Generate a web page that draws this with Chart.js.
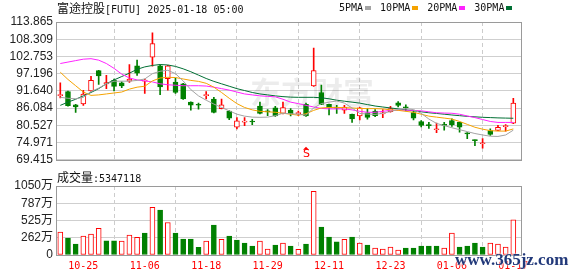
<!DOCTYPE html>
<html><head><meta charset="utf-8">
<script src="https://cdn.jsdelivr.net/npm/chart.js@4/dist/chart.umd.min.js"></script>
<style>
html,body{margin:0;padding:0;background:#fff;width:578px;height:276px;overflow:hidden;position:relative;}
canvas{position:absolute;left:0;}
.t{position:absolute;white-space:nowrap;color:#111;font-family:"DejaVu Sans Mono",monospace;font-size:10px;line-height:13px;}
.cjk{font-family:"Noto Sans CJK SC";font-size:12px;}
.sw{display:inline-block;width:6px;height:4px;margin:0 9px 1px 2px;vertical-align:middle;}
#wm2{position:absolute;left:455px;top:250px;font:bold 17px "Liberation Serif",serif;color:#22397a;white-space:nowrap;text-shadow:0 0 2px #fff,0 0 2px #fff;}
</style></head><body>
<canvas id="pc" width="578" height="170" style="top:0"></canvas>
<canvas id="vc" width="578" height="106" style="top:170px"></canvas>
<div class="t" style="left:57px;top:1px"><span class="cjk">富途控股</span>[FUTU] 2025-01-18 05:00</div>
<div class="t" id="legend" style="left:339px;top:1px"></div>
<div class="t" style="left:57px;top:170px"><span class="cjk">成交量</span>:5347118</div>
<div id="wm2">www.365jz.com</div>
<script>
// ---------- data ----------
const dates = ["10-22","10-23","10-24","10-25","10-28","10-29","10-30","10-31","11-01","11-04","11-05","11-06","11-07","11-08","11-11","11-12","11-13","11-14","11-15","11-18","11-19","11-20","11-21","11-22","11-25","11-26","11-27","11-29","12-02","12-03","12-04","12-05","12-06","12-09","12-10","12-11","12-12","12-13","12-16","12-17","12-18","12-19","12-20","12-23","12-24","12-26","12-27","12-30","12-31","01-02","01-03","01-06","01-07","01-08","01-10","01-13","01-14","01-15","01-16","01-17"];
const openP  = [90.1,91.43,87.17,87.48,91.65,98.2,93.9,95.08,94.24,94.77,99.75,94.8,102.56,99.75,95.58,94.46,93.93,88.0,87.3,90.1,89.04,85.92,85.11,79.91,81.55,81.75,86.76,85.0,86.14,84.37,85.42,84.3,87.29,93.21,91.12,87.29,86.3,85.42,84.05,83.55,84.58,85.11,84.25,84.9,87.79,86.35,84.68,81.78,80.6,79.1,80.6,82.09,81.47,77.9,75.7,74.6,78.88,78.88,80.1,81.25];
const highP  = [94.24,91.6,87.3,91.84,96.33,98.3,96.64,95.49,94.55,100.16,101.62,95.49,110.35,100.0,99.9,95.8,94.1,88.1,87.7,91.43,89.6,89.04,85.3,83.03,83.03,82.5,88.0,85.61,86.67,88.0,85.92,85.11,87.7,105.45,93.52,87.4,87.0,87.0,84.2,86.3,85.92,85.6,85.61,86.67,88.2,87.17,85.2,82.09,81.47,81.25,81.47,82.6,81.6,78.2,75.86,76.27,79.4,80.53,80.75,89.26];
const lowP   = [89.35,86.7,84.68,86.98,91.5,93.7,92.37,91.65,92.68,94.4,96.64,90.81,99.63,90.41,91.84,90.81,88.9,85.42,85.73,89.04,84.5,85.8,82.4,79.38,80.44,80.75,84.2,83.65,83.4,84.2,83.55,83.65,83.4,93.1,87.2,83.87,84.37,84.37,81.47,82.31,82.5,83.3,83.03,84.8,86.45,85.2,82.3,80.0,79.5,78.2,78.97,80.2,78.35,76.27,73.99,73.15,77.3,78.8,78.66,81.1];
const closeP = [90.4,86.86,86.45,90.6,95.08,96.5,94.3,93.09,93.21,95.49,97.35,94.96,106.92,92.9,99.75,91.12,89.04,87.05,87.0,90.4,84.68,87.17,82.81,82.0,81.69,81.6,84.37,84.85,83.55,86.24,84.3,84.45,83.55,98.2,87.29,86.14,86.1,86.45,82.62,86.14,83.12,83.65,84.4,85.92,86.98,86.2,82.81,80.53,80.45,79.25,80.5,80.75,79.91,77.8,75.6,74.75,77.64,79.91,80.25,87.7];
const ma5  = [89.57,89.26,89.1,89.57,91.44,92.53,93.93,94.77,94.77,94.77,95.02,95.49,97.2,97.98,98.29,97.2,94.86,92.06,90.04,88.63,87.39,86.3,85.21,84.12,83.5,83.18,83.12,83.18,83.65,84.43,84.27,84.12,83.81,86.14,87.54,88.01,88.38,87.7,86.14,84.37,84.18,84.05,84.43,84.99,85.67,85.92,85.61,84.43,82.56,81.16,80.44,79.76,79.13,78.51,77.89,77.42,77.02,76.95,77.42,78.98];
const ma10 = [97.67,95.33,93.31,91.28,90.19,90.35,90.66,90.97,91.28,92.22,92.84,93.15,94.86,95.8,96.02,95.95,95.49,95.02,94.71,94.09,92.84,91.13,89.26,87.54,86.3,85.52,85.05,84.9,84.74,84.43,84.12,83.81,84.27,85.36,86.14,86.3,86.3,86.24,86.14,85.99,85.92,85.92,85.83,85.52,85.36,85.05,84.74,84.12,83.5,83.18,82.87,82.56,81.78,80.85,79.91,79.29,78.82,78.67,78.67,79.38];
const ma20 = [100.47,100.94,101.41,101.87,102.03,101.56,100.47,98.91,97.05,95.8,95.18,94.86,94.55,93.93,93.62,93.46,93.31,93.31,93.31,93.21,92.84,92.37,91.9,91.28,90.66,90.35,90.04,89.88,89.72,88.95,88.01,87.54,86.98,86.45,85.99,85.83,85.83,85.83,85.52,85.05,84.74,84.74,85.05,85.36,85.42,85.42,85.36,85.21,84.9,84.59,84.49,84.43,84.12,83.55,83.03,82.4,81.78,81.47,81.47,81.47];
const ma30 = [86.98,88.01,88.95,90.04,91.13,92.37,93.93,95.18,96.27,97.36,98.6,99.38,99.85,100.16,100.0,99.54,98.76,97.82,96.73,95.64,94.71,93.93,93.15,92.37,91.75,91.13,90.66,90.35,90.04,89.79,89.63,89.57,89.57,89.57,89.41,89.1,88.63,88.32,88.01,87.7,87.23,86.76,86.45,86.14,85.83,85.52,85.21,84.9,84.59,84.37,84.12,83.87,83.65,83.43,83.28,83.12,83.03,82.93,82.87,82.81];
const volume = [348,257,167,288,318,404,217,217,212,303,268,333,727,682,495,333,242,242,116,212,455,237,288,227,182,136,212,91,152,182,136,86,167,970,424,273,202,237,273,182,152,106,91,121,76,106,106,136,136,136,106,333,121,136,182,121,182,167,121,534.7118];
const priceTicks = [69.415,74.971,80.527,86.084,91.640,97.196,102.753,108.309,113.865];
const volTicks = [0,262.5,525,787.5,1050];
const labelIdx = [3,11,19,27,35,43,51,59];
const maNames = ["5PMA","10PMA","20PMA","30PMA"];
const maColors = ["#a3a3a3","#f5a300","#ff22ff","#006f34"];
const signals = [{idx:32, text:"S"}];

// ---------- styles ----------
const RED = "#ff0000", GREEN = "#008000";
const up = closeP.map((c,i)=>c>=openP[i]);
const volUp = closeP.map((c,i)=> i===0 ? up[0] : c>=closeP[i-1]);
const XMIN = -0.56, XMAX = 60.13;

document.getElementById('legend').innerHTML = maNames.map((n,i)=>
  n + '<span class="sw" style="background:' + maColors[i] + '"></span>').join('');

const frame = {
  id:'frame',
  afterDraw(chart){
    const a = chart.chartArea, c = chart.ctx;
    c.save(); c.strokeStyle = '#9a9a9a'; c.lineWidth = 1;
    c.strokeRect(Math.round(a.left)+0.5, Math.round(a.top)+0.5, Math.round(a.right-a.left)-1, Math.round(a.bottom-a.top));
    c.restore();
  }
};
const watermark = {
  id:'wm',
  beforeDatasetsDraw(chart){
    const c = chart.ctx;
    c.save();
    c.fillStyle = 'rgba(0,0,0,0.075)';
    c.font = 'bold 31px "Noto Sans CJK SC"';
    c.textBaseline = 'alphabetic';
    c.fillText('东方财富', 250, 104);
    c.restore();
  }
};
const signalPlugin = {
  id:'sig',
  afterDatasetsDraw(chart){
    const c = chart.ctx, xs = chart.scales.x, a = chart.chartArea;
    c.save();
    c.fillStyle = RED; c.strokeStyle = RED;
    signals.forEach(s=>{
      const x = Math.round(xs.getPixelForValue(s.idx));
      const yb = a.bottom - 1;
      c.beginPath(); c.moveTo(x, yb-12); c.lineTo(x-3, yb-9); c.lineTo(x+3, yb-9); c.closePath(); c.fill();
      c.font = '11px "DejaVu Sans"'; c.textAlign = 'center'; c.textBaseline = 'bottom';
      c.fillText(s.text, x+0.5, yb+1);
    });
    c.restore();
  }
};

const lineSets = [ma5, ma10, ma20, ma30].map((arr,k)=>({
  type:'line', label:maNames[k], data: arr.map((v,i)=>({x:i,y:v})),
  borderColor: maColors[k], borderWidth: 1, pointRadius: 0, tension: 0, order: 0, fill:false
}));

new Chart(document.getElementById('pc'), {
  type:'bar',
  data:{ datasets:[
    ...lineSets,
    { type:'bar', label:'body', data: openP.map((o,i)=>({x:i, y:[o, closeP[i]]})),
      backgroundColor: up.map(u=>u?'#ffffff':GREEN), borderColor: up.map(u=>u?RED:GREEN),
      borderWidth: 1, borderSkipped: false, barThickness: 5, minBarLength: 1, grouped:false, order: 1 },
    { type:'bar', label:'wick', data: lowP.map((l,i)=>({x:i, y:[l, highP[i]]})),
      backgroundColor: up.map(u=>u?RED:GREEN), borderWidth: 0, barThickness: 1, grouped:false, order: 2 }
  ]},
  options:{
    responsive:false, animation:false, events:[],
    layout:{padding:{left:0, right:56, top:22, bottom:5}},
    plugins:{legend:{display:false}, tooltip:{enabled:false}},
    scales:{
      x:{ type:'linear', min:XMIN, max:XMAX, offset:false,
          afterBuildTicks: s=>{ s.ticks = labelIdx.map(v=>({value:v})); },
          ticks:{display:false}, grid:{color:'#cccccc', drawTicks:false, lineWidth:1},
          border:{display:false, dash:[4,3]}, afterFit: s=>{ s.height = 0; } },
      y:{ min:69.415, max:113.865,
          afterBuildTicks: s=>{ s.ticks = priceTicks.map(v=>({value:v})); },
          ticks:{ autoSkip:false, callback: v=>Number(v).toFixed(3), font:{family:'"Liberation Sans", Arial', size:12}, color:'#222', padding:3 },
          grid:{color:'#cfcfcf', drawTicks:false}, border:{display:false},
          afterFit: s=>{ s.width = 56; } }
    }
  },
  plugins:[watermark, frame, signalPlugin]
});

new Chart(document.getElementById('vc'), {
  type:'bar',
  data:{ datasets:[
    { label:'vol', data: volume.map((v,i)=>({x:i, y:v})),
      backgroundColor: volUp.map(u=>u?'#ffffff':GREEN), borderColor: volUp.map(u=>u?RED:GREEN),
      borderWidth: 1, borderSkipped: false, barThickness: 5, grouped:false }
  ]},
  options:{
    responsive:false, animation:false, events:[],
    layout:{padding:{left:0, right:56, top:16, bottom:0}},
    plugins:{legend:{display:false}, tooltip:{enabled:false}},
    scales:{
      x:{ type:'linear', min:XMIN, max:XMAX, offset:false,
          afterBuildTicks: s=>{ s.ticks = labelIdx.map(v=>({value:v})); },
          ticks:{ autoSkip:false, maxRotation:0, callback: v=>dates[v]||'', color:'#ff0000',
                  font:{family:'"DejaVu Sans Mono", monospace', size:10}, padding:5 },
          grid:{color:'#cccccc', drawTicks:false}, border:{display:false, dash:[4,3]},
          afterFit: s=>{ s.height = 21; } },
      y:{ min:0, max:1050,
          afterBuildTicks: s=>{ s.ticks = volTicks.map(v=>({value:v})); },
          ticks:{ autoSkip:false, callback: v=> v===0 ? '0' : Math.floor(v)+'万', font:{family:'"Liberation Sans", "Noto Sans CJK SC"', size:12}, color:'#222', padding:3 },
          grid:{color:'#cfcfcf', drawTicks:false}, border:{display:false},
          afterFit: s=>{ s.width = 56; } }
    }
  },
  plugins:[frame]
});
</script>
</body></html>
